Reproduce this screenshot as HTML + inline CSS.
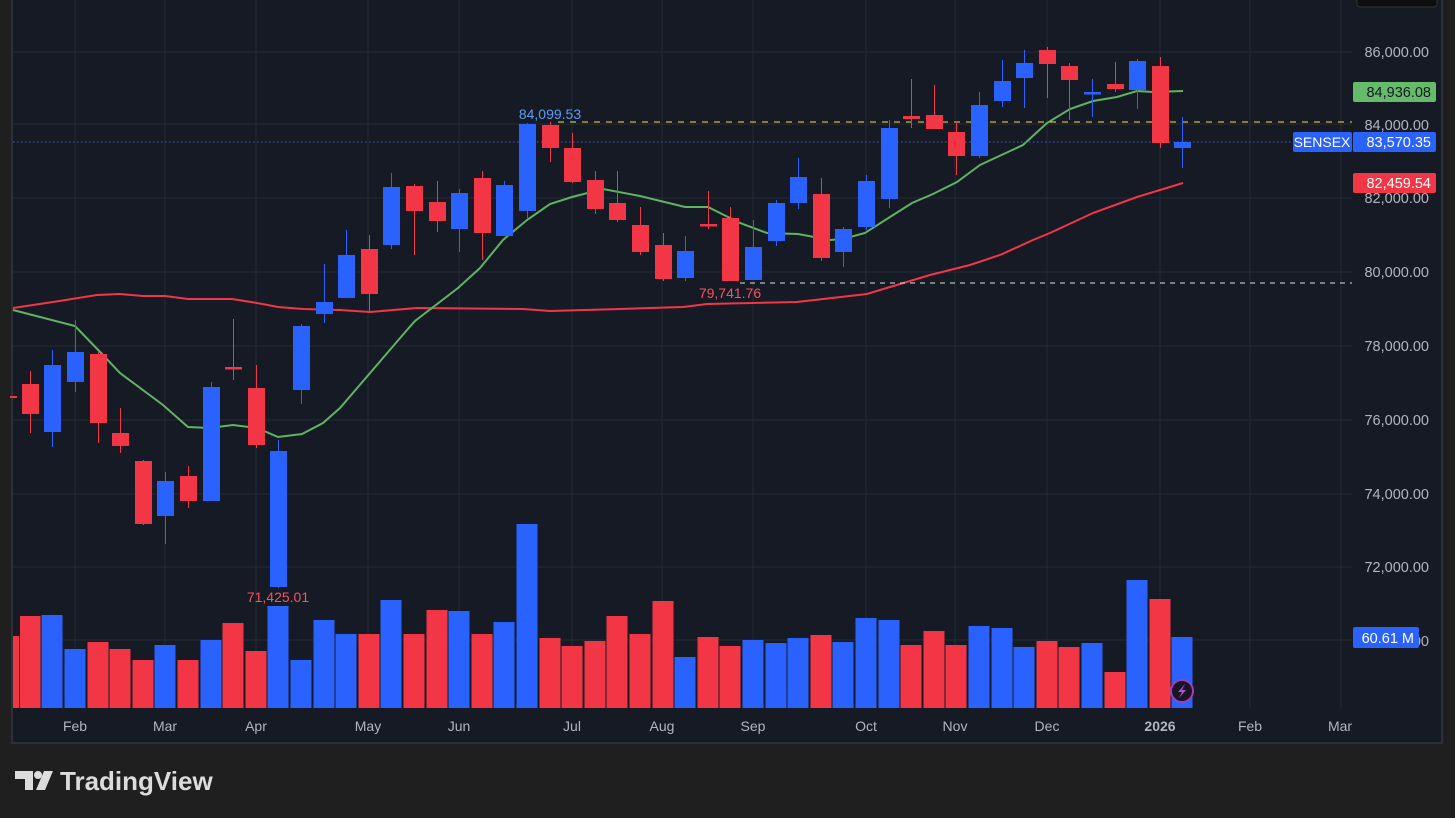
<!DOCTYPE html>
<html><head><meta charset="utf-8"><style>
html,body{margin:0;padding:0;background:#1f1f1f;width:1455px;height:818px;overflow:hidden}
svg{position:absolute;left:0;top:0}
text{font-family:"Liberation Sans",sans-serif}
</style></head><body>
<svg width="1455" height="818" viewBox="0 0 1455 818">
<rect x="0" y="0" width="1455" height="818" fill="#1f1f1f"/>
<rect x="12" y="-2" width="1430" height="745" fill="#161a25" stroke="#2e3038" stroke-width="2"/>
<rect x="1357" y="-5" width="80" height="12" rx="3" fill="#0e0e0e" stroke="#333" />
<g stroke="#262a35" stroke-width="1">
<line x1="13" y1="52" x2="1352" y2="52"/><line x1="13" y1="124" x2="1352" y2="124"/>
<line x1="13" y1="198" x2="1352" y2="198"/><line x1="13" y1="272" x2="1352" y2="272"/>
<line x1="13" y1="346" x2="1352" y2="346"/><line x1="13" y1="420" x2="1352" y2="420"/>
<line x1="13" y1="494" x2="1352" y2="494"/><line x1="13" y1="567" x2="1352" y2="567"/>
<line x1="13" y1="640" x2="1352" y2="640"/>
<line x1="75" y1="0" x2="75" y2="708"/><line x1="165" y1="0" x2="165" y2="708"/>
<line x1="256" y1="0" x2="256" y2="708"/><line x1="368" y1="0" x2="368" y2="708"/>
<line x1="459" y1="0" x2="459" y2="708"/><line x1="572" y1="0" x2="572" y2="708"/>
<line x1="662" y1="0" x2="662" y2="708"/><line x1="753" y1="0" x2="753" y2="708"/>
<line x1="866" y1="0" x2="866" y2="708"/><line x1="955" y1="0" x2="955" y2="708"/>
<line x1="1047" y1="0" x2="1047" y2="708"/><line x1="1160" y1="0" x2="1160" y2="708"/>
<line x1="1250" y1="0" x2="1250" y2="708"/><line x1="1341" y1="0" x2="1341" y2="708"/>
</g>
<!-- volume -->
<g>
<rect x="13" y="636" width="6" height="72" fill="#f23645"/>
<rect x="20" y="616" width="20.5" height="92" fill="#f23645"/>
<rect x="41.5" y="615" width="21" height="93" fill="#2962ff"/>
<rect x="64.5" y="649" width="21" height="59" fill="#2962ff"/>
<rect x="87.5" y="642" width="21" height="66" fill="#f23645"/>
<rect x="109.5" y="649" width="21" height="59" fill="#f23645"/>
<rect x="132.5" y="660" width="21" height="48" fill="#f23645"/>
<rect x="154.5" y="645" width="21" height="63" fill="#2962ff"/>
<rect x="177.5" y="660" width="21" height="48" fill="#f23645"/>
<rect x="200.5" y="640" width="21" height="68" fill="#2962ff"/>
<rect x="222.5" y="623" width="21" height="85" fill="#f23645"/>
<rect x="245.5" y="651" width="21" height="57" fill="#f23645"/>
<rect x="267.5" y="606" width="21" height="102" fill="#2962ff"/>
<rect x="290.5" y="660" width="21" height="48" fill="#2962ff"/>
<rect x="313.5" y="620" width="21" height="88" fill="#2962ff"/>
<rect x="335.5" y="634" width="21" height="74" fill="#2962ff"/>
<rect x="358.5" y="634" width="21" height="74" fill="#f23645"/>
<rect x="380.5" y="600" width="21" height="108" fill="#2962ff"/>
<rect x="403.5" y="634" width="21" height="74" fill="#f23645"/>
<rect x="426.5" y="610" width="21" height="98" fill="#f23645"/>
<rect x="448.5" y="611" width="21" height="97" fill="#2962ff"/>
<rect x="471.5" y="634" width="21" height="74" fill="#f23645"/>
<rect x="493.5" y="622" width="21" height="86" fill="#2962ff"/>
<rect x="516.5" y="524" width="21" height="184" fill="#2962ff"/>
<rect x="539.5" y="638" width="21" height="70" fill="#f23645"/>
<rect x="561.5" y="646" width="21" height="62" fill="#f23645"/>
<rect x="584.5" y="641" width="21" height="67" fill="#f23645"/>
<rect x="606.5" y="616" width="21" height="92" fill="#f23645"/>
<rect x="629.5" y="634" width="21" height="74" fill="#f23645"/>
<rect x="652.5" y="601" width="21" height="107" fill="#f23645"/>
<rect x="674.5" y="657" width="21" height="51" fill="#2962ff"/>
<rect x="697.5" y="637" width="21" height="71" fill="#f23645"/>
<rect x="719.5" y="646" width="21" height="62" fill="#f23645"/>
<rect x="742.5" y="640" width="21" height="68" fill="#2962ff"/>
<rect x="765.5" y="643" width="21" height="65" fill="#2962ff"/>
<rect x="787.5" y="638" width="21" height="70" fill="#2962ff"/>
<rect x="810.5" y="635" width="21" height="73" fill="#f23645"/>
<rect x="832.5" y="642" width="21" height="66" fill="#2962ff"/>
<rect x="855.5" y="618" width="21" height="90" fill="#2962ff"/>
<rect x="878.5" y="620" width="21" height="88" fill="#2962ff"/>
<rect x="900.5" y="645" width="21" height="63" fill="#f23645"/>
<rect x="923.5" y="631" width="21" height="77" fill="#f23645"/>
<rect x="945.5" y="645" width="21" height="63" fill="#f23645"/>
<rect x="968.5" y="626" width="21" height="82" fill="#2962ff"/>
<rect x="991.5" y="628" width="21" height="80" fill="#2962ff"/>
<rect x="1013.5" y="647" width="21" height="61" fill="#2962ff"/>
<rect x="1036.5" y="641" width="21" height="67" fill="#f23645"/>
<rect x="1058.5" y="647" width="21" height="61" fill="#f23645"/>
<rect x="1081.5" y="643" width="21" height="65" fill="#2962ff"/>
<rect x="1104.5" y="672" width="21" height="36" fill="#f23645"/>
<rect x="1126.5" y="580" width="21" height="128" fill="#2962ff"/>
<rect x="1149.5" y="599" width="21" height="109" fill="#f23645"/>
<rect x="1171.5" y="637" width="21" height="71" fill="#2962ff"/>
</g>
<!-- MAs -->
<polyline fill="none" stroke="#f23645" stroke-width="2" points="13,308 53,302 97,295 120,294 143,296 165,296 188,299 232,299 257,303 278,307 303,309 340,310 370,312 417,308 523,309 550,311 620,309 683,307 707,304 797,302 867,294 890,287 930,275 970,265 1000,255 1033,240 1050,233 1093,213 1137,197 1183,183"/>
<polyline fill="none" stroke="#5fb462" stroke-width="2" points="13,310 75,326 103,355 120,373 163,405 188,427 210,428 233,425 257,428 278,437 302,434 323,423 340,408 407,330 415,321 458,288 480,268 503,240 527,220 550,204 572,197 603,189 640,196 685,207 708,207 740,223 767,233 798,234 830,240 843,239 865,233 890,217 912,203 933,194 957,182 980,165 1023,145 1047,123 1070,109 1093,101 1117,97 1137,91 1153,92 1183,91"/>
<!-- level lines -->
<line x1="558" y1="122" x2="1352" y2="122" stroke="#f5e12a" stroke-width="1" stroke-dasharray="6,6"/>
<line x1="740" y1="283" x2="1352" y2="283" stroke="#e0e0e0" stroke-width="1" stroke-dasharray="5,5"/>
<line x1="13" y1="142" x2="1292" y2="142" stroke="#2962ff" stroke-width="1" stroke-dasharray="1.5,2.5"/>
<!-- candles -->
<g stroke-width="1">
<rect x="10" y="396" width="7" height="2" fill="#f23645"/>
<g fill="#f23645" stroke="#f23645"><line x1="30.5" y1="371" x2="30.5" y2="433"/><rect x="22" y="384" width="17" height="30" stroke="none"/></g>
<g fill="#2962ff" stroke="#2962ff"><line x1="52.5" y1="350" x2="52.5" y2="447"/><rect x="44" y="365" width="17" height="67" stroke="none"/></g>
<g fill="#2962ff" stroke="#2962ff"><line x1="75.5" y1="320" x2="75.5" y2="392"/><rect x="67" y="352" width="17" height="30" stroke="none"/></g>
<g fill="#f23645" stroke="#f23645"><line x1="98.5" y1="352" x2="98.5" y2="443"/><rect x="90" y="354" width="17" height="69" stroke="none"/></g>
<g fill="#f23645" stroke="#f23645"><line x1="120.5" y1="408" x2="120.5" y2="453"/><rect x="112" y="433" width="17" height="13" stroke="none"/></g>
<g fill="#f23645" stroke="#f23645"><line x1="143.5" y1="460" x2="143.5" y2="525"/><rect x="135" y="461" width="17" height="63" stroke="none"/></g>
<g fill="#2962ff" stroke="#2962ff"><line x1="165.5" y1="472" x2="165.5" y2="544"/><rect x="157" y="481" width="17" height="35" stroke="none"/></g>
<g fill="#f23645" stroke="#f23645"><line x1="188.5" y1="466" x2="188.5" y2="508"/><rect x="180" y="476" width="17" height="25" stroke="none"/></g>
<g fill="#2962ff" stroke="#2962ff"><line x1="211.5" y1="382" x2="211.5" y2="501"/><rect x="203" y="387" width="17" height="114" stroke="none"/></g>
<g fill="#f23645" stroke="#f23645"><line x1="233.5" y1="319" x2="233.5" y2="380"/><rect x="225" y="367" width="17" height="2.5" stroke="none"/></g>
<g fill="#f23645" stroke="#f23645"><line x1="256.5" y1="365" x2="256.5" y2="448"/><rect x="248" y="388" width="17" height="57" stroke="none"/></g>
<g fill="#2962ff" stroke="#2962ff"><line x1="278.5" y1="440" x2="278.5" y2="588"/><rect x="270" y="451" width="17" height="136" stroke="none"/></g>
<g fill="#2962ff" stroke="#2962ff"><line x1="301.5" y1="324" x2="301.5" y2="404"/><rect x="293" y="326" width="17" height="64" stroke="none"/></g>
<g fill="#2962ff" stroke="#2962ff"><line x1="324.5" y1="264" x2="324.5" y2="323"/><rect x="316" y="302" width="17" height="12" stroke="none"/></g>
<g fill="#2962ff" stroke="#2962ff"><line x1="346.5" y1="230" x2="346.5" y2="298"/><rect x="338" y="255" width="17" height="43" stroke="none"/></g>
<g fill="#f23645" stroke="#f23645"><line x1="369.5" y1="235" x2="369.5" y2="312"/><rect x="361" y="249" width="17" height="45" stroke="none"/></g>
<g fill="#2962ff" stroke="#2962ff"><line x1="391.5" y1="173" x2="391.5" y2="249"/><rect x="383" y="187" width="17" height="58" stroke="none"/></g>
<g fill="#f23645" stroke="#f23645"><line x1="414.5" y1="184" x2="414.5" y2="255"/><rect x="406" y="186" width="17" height="25" stroke="none"/></g>
<g fill="#f23645" stroke="#f23645"><line x1="437.5" y1="181" x2="437.5" y2="232"/><rect x="429" y="202" width="17" height="19" stroke="none"/></g>
<g fill="#2962ff" stroke="#2962ff"><line x1="459.5" y1="189" x2="459.5" y2="252"/><rect x="451" y="193" width="17" height="36" stroke="none"/></g>
<g fill="#f23645" stroke="#f23645"><line x1="482.5" y1="171" x2="482.5" y2="260"/><rect x="474" y="178" width="17" height="55" stroke="none"/></g>
<g fill="#2962ff" stroke="#2962ff"><line x1="504.5" y1="181" x2="504.5" y2="236"/><rect x="496" y="185" width="17" height="51" stroke="none"/></g>
<g fill="#2962ff" stroke="#2962ff"><line x1="527.5" y1="123" x2="527.5" y2="219"/><rect x="519" y="124" width="17" height="87" stroke="none"/></g>
<g fill="#f23645" stroke="#f23645"><line x1="550.5" y1="122" x2="550.5" y2="162"/><rect x="542" y="125" width="17" height="23" stroke="none"/></g>
<g fill="#f23645" stroke="#f23645"><line x1="572.5" y1="133" x2="572.5" y2="183"/><rect x="564" y="148" width="17" height="34" stroke="none"/></g>
<g fill="#f23645" stroke="#f23645"><line x1="595.5" y1="171" x2="595.5" y2="214"/><rect x="587" y="180" width="17" height="29" stroke="none"/></g>
<g fill="#f23645" stroke="#f23645"><line x1="617.5" y1="171" x2="617.5" y2="222"/><rect x="609" y="203" width="17" height="17" stroke="none"/></g>
<g fill="#f23645" stroke="#f23645"><line x1="640.5" y1="207" x2="640.5" y2="255"/><rect x="632" y="225" width="17" height="27" stroke="none"/></g>
<g fill="#f23645" stroke="#f23645"><line x1="663.5" y1="233" x2="663.5" y2="281"/><rect x="655" y="245" width="17" height="34" stroke="none"/></g>
<g fill="#2962ff" stroke="#2962ff"><line x1="685.5" y1="236" x2="685.5" y2="281"/><rect x="677" y="251" width="17" height="27" stroke="none"/></g>
<g fill="#f23645" stroke="#f23645"><line x1="708.5" y1="191" x2="708.5" y2="229"/><rect x="700" y="224" width="17" height="2.5" stroke="none"/></g>
<g fill="#f23645" stroke="#f23645"><line x1="730.5" y1="207" x2="730.5" y2="281"/><rect x="722" y="218" width="17" height="63" stroke="none"/></g>
<g fill="#2962ff" stroke="#2962ff"><line x1="753.5" y1="220" x2="753.5" y2="280"/><rect x="745" y="247" width="17" height="33" stroke="none"/></g>
<g fill="#2962ff" stroke="#2962ff"><line x1="776.5" y1="200" x2="776.5" y2="246"/><rect x="768" y="203" width="17" height="38" stroke="none"/></g>
<g fill="#2962ff" stroke="#2962ff"><line x1="798.5" y1="158" x2="798.5" y2="209"/><rect x="790" y="177" width="17" height="26" stroke="none"/></g>
<g fill="#f23645" stroke="#f23645"><line x1="821.5" y1="178" x2="821.5" y2="261"/><rect x="813" y="194" width="17" height="64" stroke="none"/></g>
<g fill="#2962ff" stroke="#2962ff"><line x1="843.5" y1="227" x2="843.5" y2="267"/><rect x="835" y="229" width="17" height="23" stroke="none"/></g>
<g fill="#2962ff" stroke="#2962ff"><line x1="866.5" y1="175" x2="866.5" y2="230"/><rect x="858" y="181" width="17" height="46" stroke="none"/></g>
<g fill="#2962ff" stroke="#2962ff"><line x1="889.5" y1="120" x2="889.5" y2="208"/><rect x="881" y="128" width="17" height="71" stroke="none"/></g>
<g fill="#f23645" stroke="#f23645"><line x1="911.5" y1="79" x2="911.5" y2="128"/><rect x="903" y="116" width="17" height="3" stroke="none"/></g>
<g fill="#f23645" stroke="#f23645"><line x1="934.5" y1="85" x2="934.5" y2="129"/><rect x="926" y="115" width="17" height="14" stroke="none"/></g>
<g fill="#f23645" stroke="#f23645"><line x1="956.5" y1="121" x2="956.5" y2="175"/><rect x="948" y="132" width="17" height="24" stroke="none"/></g>
<g fill="#2962ff" stroke="#2962ff"><line x1="979.5" y1="92" x2="979.5" y2="158"/><rect x="971" y="105" width="17" height="51" stroke="none"/></g>
<g fill="#2962ff" stroke="#2962ff"><line x1="1002.5" y1="60" x2="1002.5" y2="107"/><rect x="994" y="81" width="17" height="20" stroke="none"/></g>
<g fill="#2962ff" stroke="#2962ff"><line x1="1024.5" y1="50" x2="1024.5" y2="108"/><rect x="1016" y="63" width="17" height="15" stroke="none"/></g>
<g fill="#f23645" stroke="#f23645"><line x1="1047.5" y1="47" x2="1047.5" y2="98"/><rect x="1039" y="50" width="17" height="14" stroke="none"/></g>
<g fill="#f23645" stroke="#f23645"><line x1="1069.5" y1="63" x2="1069.5" y2="120"/><rect x="1061" y="66" width="17" height="14" stroke="none"/></g>
<g fill="#2962ff" stroke="#2962ff"><line x1="1092.5" y1="79" x2="1092.5" y2="117"/><rect x="1084" y="92" width="17" height="2.5" stroke="none"/></g>
<g fill="#f23645" stroke="#f23645"><line x1="1115.5" y1="62" x2="1115.5" y2="92"/><rect x="1107" y="84" width="17" height="5" stroke="none"/></g>
<g fill="#2962ff" stroke="#2962ff"><line x1="1137.5" y1="59" x2="1137.5" y2="109"/><rect x="1129" y="61" width="17" height="29" stroke="none"/></g>
<g fill="#f23645" stroke="#f23645"><line x1="1160.5" y1="57" x2="1160.5" y2="148"/><rect x="1152" y="66" width="17" height="77" stroke="none"/></g>
<g fill="#2962ff" stroke="#2962ff"><line x1="1182.5" y1="117" x2="1182.5" y2="168"/><rect x="1174" y="142" width="17" height="6" stroke="none"/></g>
</g>
<!-- annotations -->
<text x="550" y="119" font-size="14" fill="#5b9cf6" text-anchor="middle">84,099.53</text>
<text x="730" y="298" font-size="14" fill="#f7525f" text-anchor="middle">79,741.76</text>
<text x="278" y="602" font-size="14" fill="#f7525f" text-anchor="middle">71,425.01</text>
<!-- lightning -->
<circle cx="1182" cy="691" r="11" fill="#1a1423" stroke="#9c3fc0" stroke-width="2"/>
<path d="M1185,684 L1178,692 L1182,692 L1179,698 L1186,690 L1182,690 Z" fill="#b04fd8"/>
<!-- price scale -->
<g font-size="14.5" fill="#b2b5be" text-anchor="end">
<text x="1429" y="57">86,000.00</text>
<text x="1429" y="130">84,000.00</text>
<text x="1429" y="203">82,000.00</text>
<text x="1429" y="277">80,000.00</text>
<text x="1429" y="351">78,000.00</text>
<text x="1429" y="425">76,000.00</text>
<text x="1429" y="499">74,000.00</text>
<text x="1429" y="572">72,000.00</text>
<text x="1429" y="646">70,000.00</text>
</g>
<rect x="1353" y="82" width="83" height="20" rx="2" fill="#66bb6a"/>
<text x="1431" y="97" font-size="14.5" fill="#131722" text-anchor="end">84,936.08</text>
<rect x="1293" y="132" width="59" height="20" rx="2" fill="#2962ff"/>
<text x="1322" y="147" font-size="14" fill="#fff" text-anchor="middle">SENSEX</text>
<rect x="1353" y="132" width="83" height="20" rx="2" fill="#2962ff"/>
<text x="1431" y="147" font-size="14.5" fill="#fff" text-anchor="end">83,570.35</text>
<rect x="1353" y="173" width="83" height="20" rx="2" fill="#f23645"/>
<text x="1431" y="188" font-size="14.5" fill="#fff" text-anchor="end">82,459.54</text>
<rect x="1353" y="627" width="66" height="21" rx="2" fill="#2962ff"/>
<text x="1414" y="643" font-size="14.5" fill="#fff" text-anchor="end">60.61 M</text>
<!-- time axis -->
<g font-size="14" fill="#b2b5be" text-anchor="middle">
<text x="75" y="731">Feb</text><text x="165" y="731">Mar</text><text x="256" y="731">Apr</text>
<text x="368" y="731">May</text><text x="459" y="731">Jun</text><text x="572" y="731">Jul</text>
<text x="662" y="731">Aug</text><text x="753" y="731">Sep</text><text x="866" y="731">Oct</text>
<text x="955" y="731">Nov</text><text x="1047" y="731">Dec</text>
<text x="1160" y="731" font-weight="bold">2026</text>
<text x="1250" y="731">Feb</text><text x="1340" y="731">Mar</text>
</g>
<!-- logo -->
<g fill="#dcdcdc">
<path d="M15,771 H33 V790 H25 V779 H15 Z"/>
<circle cx="38" cy="775" r="4"/>
<path d="M44,771 H53 L45,790 H36 Z"/>
</g>
<text x="60" y="790" font-size="26" font-weight="bold" fill="#dcdcdc">TradingView</text>
</svg>
</body></html>
